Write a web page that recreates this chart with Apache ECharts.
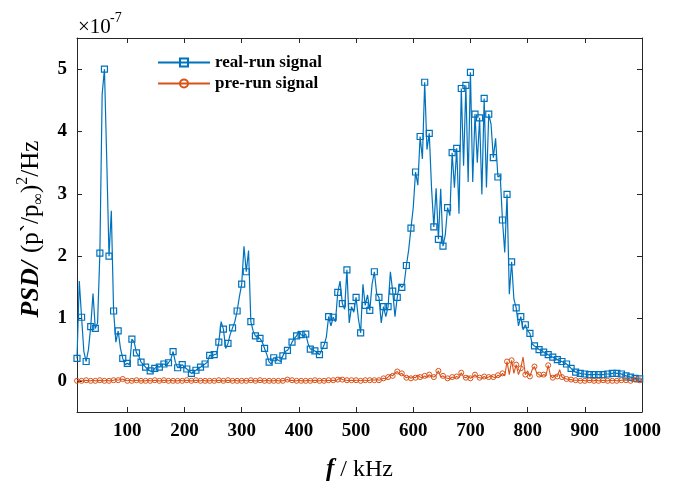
<!DOCTYPE html>
<html><head><meta charset="utf-8">
<script src="https://cdn.jsdelivr.net/npm/echarts@6/dist/echarts.min.js"></script>
<style>html,body{margin:0;padding:0;background:#fff}#c{width:676px;height:487px}</style>
</head><body><div id="c"></div>
<script>
// frequency grid (kHz): uniform PSD bins
const freqStart = 12;
const freqStep = 4;

// PSD values (x1e-7), real-run signal, one value per bin (12 .. 1000 kHz)
const realRun = [
  0.36, 1.60, 1.02, 0.47, 0.31, 0.50, 0.87, 1.40, 0.84, 0.93,
  2.05, 4.60, 5.00, 3.55, 2.00, 2.73, 1.12, 0.62, 0.80, 0.52,
  0.36, 0.26, 0.28, 0.26, 0.67, 0.62, 0.45, 0.40, 0.30, 0.26,
  0.22, 0.18, 0.16, 0.14, 0.20, 0.23, 0.22, 0.26, 0.27, 0.25,
  0.29, 0.34, 0.47, 0.30, 0.21, 0.23, 0.26, 0.22, 0.19, 0.16,
  0.12, 0.14, 0.17, 0.20, 0.22, 0.25, 0.27, 0.30, 0.41, 0.40,
  0.42, 0.43, 0.62, 0.95, 0.83, 0.52, 0.60, 0.75, 0.85, 0.95,
  1.12, 1.35, 1.55, 2.16, 1.75, 2.09, 0.95, 0.80, 0.72, 0.70,
  0.68, 0.62, 0.52, 0.42, 0.30, 0.27, 0.37, 0.36, 0.33, 0.31,
  0.40, 0.47, 0.49, 0.54, 0.62, 0.68, 0.72, 0.80, 0.74, 0.72,
  0.75, 0.60, 0.51, 0.50, 0.48, 0.45, 0.42, 0.50, 0.57, 0.70,
  1.03, 0.88, 1.02, 0.95, 1.42, 1.60, 1.24, 1.15, 1.78, 0.93,
  1.19, 1.10, 1.34, 1.00, 0.77, 1.55, 1.21, 1.38, 1.13, 1.55,
  1.75, 1.40, 1.34, 0.93, 1.19, 1.03, 1.19, 1.75, 1.44, 1.03,
  1.34, 1.55, 1.50, 1.55, 1.85, 2.10, 2.45, 2.78, 3.35, 3.14,
  3.92, 3.56, 4.79, 3.71, 3.97, 3.09, 2.47, 3.09, 2.27, 3.08,
  2.16, 2.34, 2.78, 2.65, 3.66, 3.10, 3.73, 2.68, 4.69, 3.45,
  4.74, 3.19, 4.95, 3.19, 4.28, 3.50, 4.22, 2.99, 4.53, 3.10,
  4.28, 4.12, 3.58, 3.89, 3.27, 3.30, 2.58, 2.06, 2.99, 1.39,
  1.91, 1.31, 1.17, 0.88, 1.03, 0.82, 0.90, 0.80, 0.76, 0.59,
  0.56, 0.54, 0.50, 0.49, 0.46, 0.44, 0.42, 0.39, 0.38, 0.36,
  0.34, 0.32, 0.31, 0.29, 0.27, 0.24, 0.20, 0.16, 0.14, 0.13,
  0.12, 0.11, 0.11, 0.10, 0.10, 0.10, 0.10, 0.11, 0.10, 0.10,
  0.10, 0.11, 0.11, 0.11, 0.12, 0.13, 0.12, 0.12, 0.11, 0.09,
  0.08, 0.07, 0.06, 0.05, 0.04, 0.03, 0.03, 0.02
];

// PSD values (x1e-7), pre-run signal
const preRun = [
  0.00, 0.01, 0.00, 0.00, 0.01, 0.00, 0.00, 0.01, 0.00, 0.00,
  0.01, 0.00, 0.00, 0.01, 0.00, 0.00, 0.01, 0.02, 0.01, 0.02,
  0.03, 0.01, 0.00, 0.01, 0.00, 0.00, 0.01, 0.00, 0.00, 0.00,
  0.00, 0.01, 0.00, 0.00, 0.01, 0.00, 0.00, 0.00, 0.01, 0.00,
  0.00, 0.01, 0.00, 0.00, 0.00, 0.01, 0.00, 0.00, 0.01, 0.00,
  0.00, 0.00, 0.01, 0.00, 0.00, 0.01, 0.00, 0.00, 0.00, 0.01,
  0.00, 0.00, 0.01, 0.00, 0.00, 0.00, 0.01, 0.00, 0.00, 0.01,
  0.00, 0.00, 0.00, 0.01, 0.00, 0.00, 0.01, 0.00, 0.00, 0.00,
  0.01, 0.00, 0.00, 0.01, 0.00, 0.00, 0.00, 0.01, 0.00, 0.00,
  0.00, 0.01, 0.02, 0.00, 0.01, 0.00, 0.00, 0.01, 0.00, 0.00,
  0.00, 0.01, 0.00, 0.00, 0.01, 0.00, 0.00, 0.01, 0.00, 0.00,
  0.01, 0.00, 0.01, 0.00, 0.02, 0.05, 0.02, 0.01, 0.01, 0.00,
  0.01, 0.00, 0.01, 0.01, 0.00, 0.01, 0.01, 0.00, 0.01, 0.02,
  0.01, 0.02, 0.01, 0.02, 0.04, 0.03, 0.06, 0.10, 0.08, 0.13,
  0.15, 0.10, 0.12, 0.08, 0.05, 0.07, 0.04, 0.06, 0.05, 0.09,
  0.06, 0.05, 0.08, 0.05, 0.10, 0.07, 0.06, 0.09, 0.16, 0.06,
  0.08, 0.05, 0.04, 0.03, 0.06, 0.05, 0.07, 0.05, 0.13, 0.06,
  0.05, 0.08, 0.04, 0.06, 0.10, 0.06, 0.05, 0.04, 0.07, 0.05,
  0.06, 0.08, 0.06, 0.05, 0.09, 0.07, 0.12, 0.08, 0.31, 0.10,
  0.33, 0.12, 0.26, 0.10, 0.20, 0.38, 0.10, 0.16, 0.07, 0.18,
  0.23, 0.12, 0.10, 0.07, 0.10, 0.08, 0.25, 0.08, 0.05, 0.09,
  0.07, 0.18, 0.06, 0.04, 0.03, 0.02, 0.02, 0.01, 0.01, 0.01,
  0.00, 0.01, 0.00, 0.00, 0.01, 0.00, 0.00, 0.01, 0.00, 0.00,
  0.01, 0.00, 0.00, 0.01, 0.00, 0.01, 0.00, 0.00, 0.01, 0.01,
  0.01, 0.01, 0.00, 0.01, 0.02, 0.01, 0.01, 0.01
];

const xTickLabels = [100, 200, 300, 400, 500, 600, 700, 800, 900, 1000];
const yTickLabels = [0, 1, 2, 3, 4, 5];
const seriesNames = ['real-run signal', 'pre-run signal'];

const FONT = "'Liberation Serif','Times New Roman',serif";
const BLUE = '#0072BD';
const ORANGE = '#D95319';
const AXIS = '#262626';

function build(vals) {
  return vals.map((v, i) => {
    const item = { value: [freqStart + i * freqStep, v] };
    if (i % 2 !== 0) item.symbol = 'none';
    return item;
  });
}

const axisCommon = {
  axisLine: { show: true, onZero: false, lineStyle: { color: AXIS, width: 1 } },
  axisTick: { show: true, inside: true, length: 5, lineStyle: { color: AXIS, width: 1 } },
  splitLine: { show: false }
};

const chart = echarts.init(document.getElementById('c'), null, { renderer: 'canvas' });
chart.setOption({
  animation: false,
  backgroundColor: '#fff',
  grid: { left: 77, right: 34, top: 38, bottom: 62, containLabel: false },
  legend: {
    orient: 'vertical', left: 152, top: 49,
    itemWidth: 52, itemHeight: 10, itemGap: 4,
    textStyle: { fontFamily: FONT, fontWeight: 'bold', fontSize: 17, color: '#000' },
    data: seriesNames
  },
  xAxis: [
    Object.assign({
      type: 'value', min: 12, max: 1000, splitNumber: 10, minInterval: 100, maxInterval: 100,
      position: 'bottom',
      axisLabel: {
        fontFamily: FONT, fontWeight: 'bold', fontSize: 19, color: '#000', margin: 10,
        formatter: v => (xTickLabels.indexOf(v) >= 0 ? String(v) : '')
      },
      name: '{f|f}{s| / kHz}', nameLocation: 'middle', nameGap: 45,
      nameTextStyle: {
        rich: {
          f: { fontFamily: FONT, fontStyle: 'italic', fontWeight: 'bold', fontSize: 25, color: '#000' },
          s: { fontFamily: FONT, fontSize: 24, color: '#000' }
        }
      }
    }, axisCommon),
    Object.assign({
      type: 'value', min: 12, max: 1000, splitNumber: 10, minInterval: 100, maxInterval: 100,
      position: 'top', axisLabel: { show: false }
    }, axisCommon)
  ],
  yAxis: [
    Object.assign({
      type: 'value', min: -0.5, max: 5.5, splitNumber: 6, minInterval: 1, maxInterval: 1,
      position: 'left',
      axisLabel: {
        fontFamily: FONT, fontWeight: 'bold', fontSize: 19, color: '#000', margin: 10,
        formatter: v => (yTickLabels.indexOf(v) >= 0 ? String(v) : '')
      }
    }, axisCommon),
    Object.assign({
      type: 'value', min: -0.5, max: 5.5, splitNumber: 6, minInterval: 1, maxInterval: 1,
      position: 'right', axisLabel: { show: false }
    }, axisCommon)
  ],
  graphic: [
    { type: 'text', left: 78, top: 17, style: { text: '×10', font: '21px ' + FONT, fill: '#000' } },
    { type: 'text', left: 110, top: 11, style: { text: '-7', font: '14px ' + FONT, fill: '#000' } },
    {
      type: 'text', x: 31, y: 229, rotation: Math.PI / 2,
      style: {
        text: '{a|PSD/}{sp| }{b|(p`/p}{c|∞}{b|)}{d|2}{b|/Hz}',
        align: 'center', verticalAlign: 'middle',
        rich: {
          a: { fontFamily: FONT, fontStyle: 'italic', fontWeight: 'bold', fontSize: 26, fill: '#000', lineHeight: 32, verticalAlign: 'middle' },
          sp: { fontFamily: FONT, fontSize: 26, fill: '#000', lineHeight: 32, width: 8 },
          b: { fontFamily: FONT, fontSize: 25, fill: '#000', lineHeight: 32, verticalAlign: 'middle' },
          c: { fontFamily: FONT, fontSize: 16, fill: '#000', lineHeight: 32, verticalAlign: 'bottom' },
          d: { fontFamily: FONT, fontSize: 16, fill: '#000', lineHeight: 32, verticalAlign: 'top' }
        }
      }
    }
  ],
  series: [
    {
      name: seriesNames[0], type: 'line', data: build(realRun),
      symbol: 'rect', symbolSize: 6,
      lineStyle: { color: BLUE, width: 1.2 },
      itemStyle: { color: 'rgba(255,255,255,0)', borderColor: BLUE, borderWidth: 1.2 },
      emphasis: { disabled: true }
    },
    {
      name: seriesNames[1], type: 'line', data: build(preRun),
      symbol: 'circle', symbolSize: 5,
      lineStyle: { color: ORANGE, width: 1.1 },
      itemStyle: { color: 'rgba(255,255,255,0)', borderColor: ORANGE, borderWidth: 1 },
      emphasis: { disabled: true }
    }
  ]
});
</script>
</body></html>
